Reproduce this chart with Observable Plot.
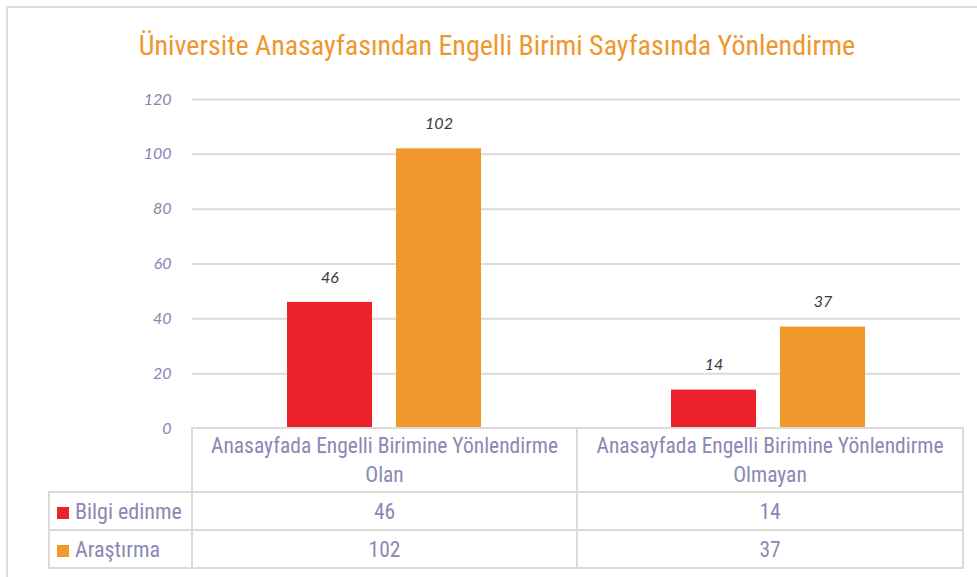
<!DOCTYPE html>
<html>
<head>
<meta charset="utf-8">
<script src="https://cdn.jsdelivr.net/npm/d3@7"></script>
<script src="https://cdn.jsdelivr.net/npm/@observablehq/plot@0.6"></script>
<style>
  html, body { margin: 0; padding: 0; background: #fff; width: 977px; height: 577px; overflow: hidden; }
  #frame { position: absolute; left: 6px; top: 6px; width: 1000px; height: 600px; border-left: 2px solid #dedede; border-top: 2px solid #dedede; box-sizing: border-box; }
  #title { position: absolute; left: 0; top: 28px; width: 994px; text-align: center; font-family: "Liberation Sans Narrow", "Arial Narrow", "Roboto", sans-serif; font-stretch: condensed; font-size: 28px; line-height: 36px; color: #F0962E; }
  #chart { position: absolute; left: 0; top: 80px; }
  #chart svg { overflow: visible; background: transparent; }
  #tbl { position: absolute; left: 48px; top: 427px; border-collapse: collapse; table-layout: fixed; width: 914px; font-family: "Liberation Sans Narrow", "Arial Narrow", "Roboto", sans-serif; font-stretch: condensed; font-size: 21.5px; color: #8a88b5; }
  #tbl td { border: 2px solid #dadada; padding: 0; text-align: center; line-height: 29px; }
  #tbl td.empty { border-left: none; border-top: none; }
  #tbl td.name { text-align: left; padding-left: 7px; white-space: nowrap; font-size: 22px; }
  #tbl .key { display: inline-block; width: 12px; height: 12px; margin-right: 6px; vertical-align: 0px; }
</style>
</head>
<body>
<div id="frame"></div>
<div id="title"></div>
<div id="chart"></div>
<table id="tbl"><colgroup><col style="width:143px"><col style="width:385px"><col style="width:386px"></colgroup></table>
<script>
const title = "Üniversite Anasayfasından Engelli Birimi Sayfasında Yönlendirme";
const categories = ["Anasayfada Engelli Birimine Yönlendirme Olan", "Anasayfada Engelli Birimine Yönlendirme Olmayan"];
const seriesNames = ["Bilgi edinme", "Araştırma"];
const bilgiEdinme = [46, 14];
const arastirma = [102, 37];
const yTicks = [0, 20, 40, 60, 80, 100, 120];
const colors = ["#ED2129", "#F0982B"];

const seriesValues = [bilgiEdinme, arastirma];
const data = categories.flatMap((c, i) => seriesNames.map((s, j) => ({cat: c, series: s, value: seriesValues[j][i]})));

document.getElementById("title").textContent = title;

const chart = Plot.plot({
  width: 977,
  height: 360,
  marginLeft: 191,
  marginRight: 17,
  marginTop: 19,
  marginBottom: 12,
  style: {background: "transparent", overflow: "visible"},
  fx: {domain: categories, padding: 0, axis: null, label: null},
  x: {domain: seriesNames, paddingInner: 0.22, paddingOuter: 0.87, axis: null, label: null},
  y: {domain: [0, 120], label: null, axis: null},
  color: {domain: seriesNames, range: colors},
  marks: [
    Plot.ruleY(yTicks.slice(1), {stroke: "#dadada", strokeWidth: 2}),
    Plot.axisY({ticks: yTicks, tickSize: 0, tickPadding: 21, label: null, fill: "#8884b4", fontSize: 16, fontStyle: "italic", fontFamily: "Lato, sans-serif"}),
    Plot.barY(data, {fx: "cat", x: "series", y: "value", fill: "series"}),
    Plot.text(data, {fx: "cat", x: "series", y: "value", text: d => String(d.value), dy: -25, fill: "#3a3a3a", fontSize: 16, fontStyle: "italic", fontFamily: "Lato, sans-serif"})
  ]
});
document.getElementById("chart").appendChild(chart);

// data table
const tbl = document.getElementById("tbl");
const head = document.createElement("tr");
head.style.height = "64px";
const e = document.createElement("td"); e.className = "empty"; head.appendChild(e);
categories.forEach((c, i) => {
  const td = document.createElement("td");
  td.textContent = c;
  td.style.padding = "0 8px";
  head.appendChild(td);
});
tbl.appendChild(head);
seriesNames.forEach((s, j) => {
  const tr = document.createElement("tr");
  tr.style.height = "38px";
  const n = document.createElement("td"); n.className = "name";
  const k = document.createElement("span"); k.className = "key"; k.style.background = colors[j];
  n.appendChild(k); n.appendChild(document.createTextNode(s));
  tr.appendChild(n);
  categories.forEach((c, i) => {
    const td = document.createElement("td");
    td.textContent = String(seriesValues[j][i]);
    tr.appendChild(td);
  });
  tbl.appendChild(tr);
});
</script>
</body>
</html>
